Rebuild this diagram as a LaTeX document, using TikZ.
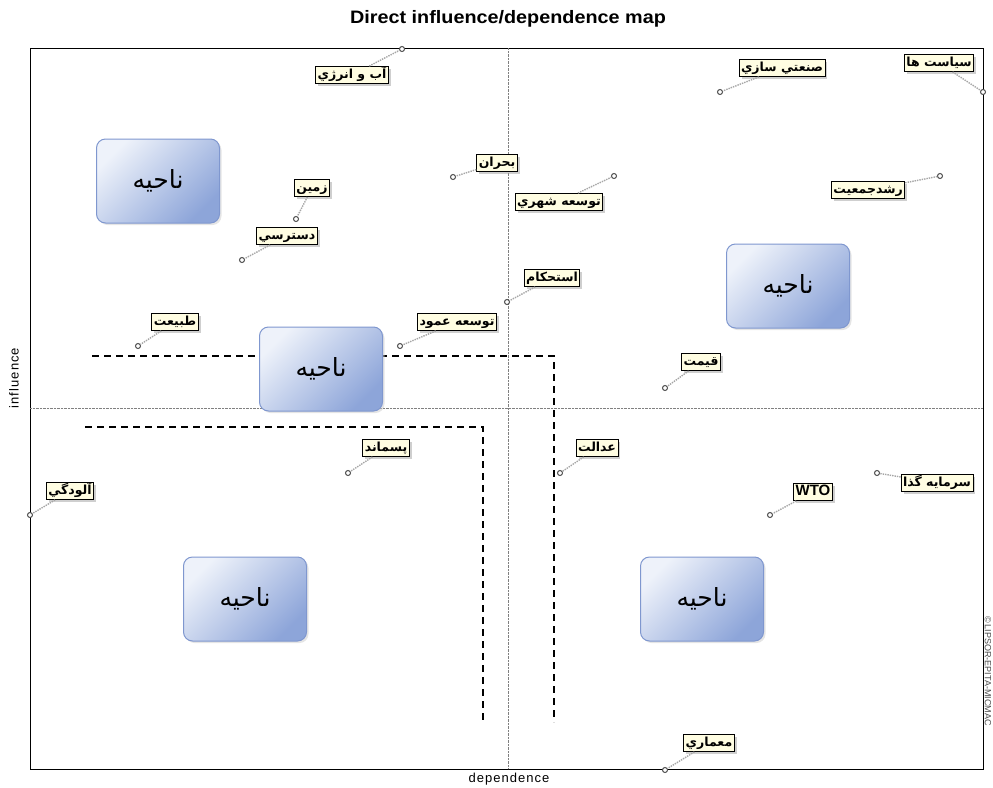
\documentclass[tikz,border=0pt]{standalone}
\usepackage{fontspec}
\setmainfont{Liberation Sans}
\newfontfamily\arabicfont[Script=Arabic]{DejaVu Sans}
\TeXXeTstate=1
\usetikzlibrary{shadows}
\definecolor{labelfill}{HTML}{FFFDE2}
\definecolor{zonetop}{HTML}{EEF2FA}
\definecolor{zonebot}{HTML}{8DA5D9}
\definecolor{zoneline}{HTML}{7F97CF}
\newcommand\fatext[1]{{\arabicfont\beginR #1\endR}}
\begin{document}
\begin{tikzpicture}[x=1pt,y=-1pt,
  lbl/.style={draw,fill=labelfill,inner sep=2pt,line width=0.9pt,
    text height=10pt,text depth=3pt,
    font=\bfseries\fontsize{12.5}{13}\selectfont,
    drop shadow={shadow xshift=2.5pt,shadow yshift=-2.5pt,fill=gray!75}},
  dotpt/.style={circle,draw=gray!60!black,fill=white,line width=1pt,
    inner sep=0pt,minimum size=5pt},
  lead/.style={gray!70,densely dotted,line width=1.4pt},
  zone/.style={rounded corners=9pt,draw=zoneline,line width=1pt,
    top color=zonetop,bottom color=zonebot,shading angle=45,
    minimum width=123pt,minimum height=84pt,font=\fontsize{25}{28}\selectfont,
    drop shadow={shadow xshift=2pt,shadow yshift=-2pt,fill=gray!40}},
  zonesplit/.style={line width=1.6pt,dash pattern=on 7pt off 5pt}]
\useasboundingbox (0,0) rectangle (993,787);
\draw[line width=1pt]
  (30,48) rectangle (983,769);
\draw[gray,densely dotted]
  (508,48) -- (508,769)
  (30,408) -- (983,408);
\node[font=\bfseries\fontsize{18}{20}\selectfont,xscale=1.1] (title) at (508,19) {Direct influence/dependence map};
\node[font=\fontsize{13}{14}\selectfont\addfontfeature{LetterSpace=8}] (dep) at (509,779) {dependence};
\node[font=\fontsize{13}{14}\selectfont\addfontfeature{LetterSpace=8},rotate=90] (infl) at (14,378) {influence};
\node[font=\fontsize{9}{10}\selectfont,text=gray!60!black,rotate=-90] (copy) at (988,671) {\copyright\,LIPSOR-EPITA-MICMAC};
\draw[zonesplit]
  (92,356) -- (554,356) -- (554,722);
\draw[zonesplit]
  (85,427) -- (483,427) -- (483,720);
\node[zone] (z1) at (158,181) {\fatext{ناحیه}};
\node[zone] (z2) at (788,286) {\fatext{ناحیه}};
\node[zone] (z3) at (321,369) {\fatext{ناحیه}};
\node[zone] (z4) at (245,599) {\fatext{ناحیه}};
\node[zone] (z5) at (702,599) {\fatext{ناحیه}};
\node[dotpt] (abp) at (402,49) {};
\node[lbl] (ab) at (352,75) {\fatext{آب و انرژي}};
\node[dotpt] (sanp) at (720,92) {};
\node[lbl] (san) at (782,68) {\fatext{صنعتي سازي}};
\node[dotpt] (siyp) at (983,92) {};
\node[lbl] (siy) at (939,63) {\fatext{سياست ها}};
\node[dotpt] (bohp) at (453,177) {};
\node[lbl] (boh) at (497,163) {\fatext{بحران}};
\node[dotpt] (shap) at (614,176) {};
\node[lbl] (sha) at (559,202) {\fatext{توسعه شهري}};
\node[dotpt] (zamp) at (296,219) {};
\node[lbl] (zam) at (312,188) {\fatext{زمين}};
\node[dotpt] (dasp) at (242,260) {};
\node[lbl] (das) at (287,236) {\fatext{دسترسي}};
\node[dotpt] (rosp) at (940,176) {};
\node[lbl] (ros) at (868,190) {\fatext{رشدجمعيت}};
\node[dotpt] (estp) at (507,302) {};
\node[lbl] (est) at (552,278) {\fatext{استحکام}};
\node[dotpt] (tabp) at (138,346) {};
\node[lbl] (tab) at (175,322) {\fatext{طبيعت}};
\node[dotpt] (amop) at (400,346) {};
\node[lbl] (amo) at (457,322) {\fatext{توسعه عمود}};
\node[dotpt] (gheyp) at (665,388) {};
\node[lbl] (ghey) at (701,362) {\fatext{قيمت}};
\node[dotpt] (alop) at (30,515) {};
\node[lbl] (alo) at (70,491) {\fatext{آلودگي}};
\node[dotpt] (pasp) at (348,473) {};
\node[lbl] (pas) at (386,448) {\fatext{پسماند}};
\node[dotpt] (edap) at (560,473) {};
\node[lbl] (eda) at (597,448) {\fatext{عدالت}};
\node[dotpt] (sarp) at (877,473) {};
\node[lbl] (sar) at (937,483) {\fatext{سرمايه گذا}};
\node[dotpt] (wtop) at (770,515) {};
\node[lbl,font=\bfseries\fontsize{15}{16}\selectfont] (wto) at (813,492) {WTO};
\node[dotpt] (meap) at (665,770) {};
\node[lbl] (mea) at (709,743) {\fatext{معماري}};
\begin{scope}[lead]
\draw (ab) -- (abp);
\draw (san) -- (sanp);
\draw (siy) -- (siyp);
\draw (boh) -- (bohp);
\draw (sha) -- (shap);
\draw (zam) -- (zamp);
\draw (das) -- (dasp);
\draw (ros) -- (rosp);
\draw (est) -- (estp);
\draw (tab) -- (tabp);
\draw (amo) -- (amop);
\draw (ghey) -- (gheyp);
\draw (alo) -- (alop);
\draw (pas) -- (pasp);
\draw (eda) -- (edap);
\draw (sar) -- (sarp);
\draw (wto) -- (wtop);
\draw (mea) -- (meap);
\end{scope}
\end{tikzpicture}
\end{document}
